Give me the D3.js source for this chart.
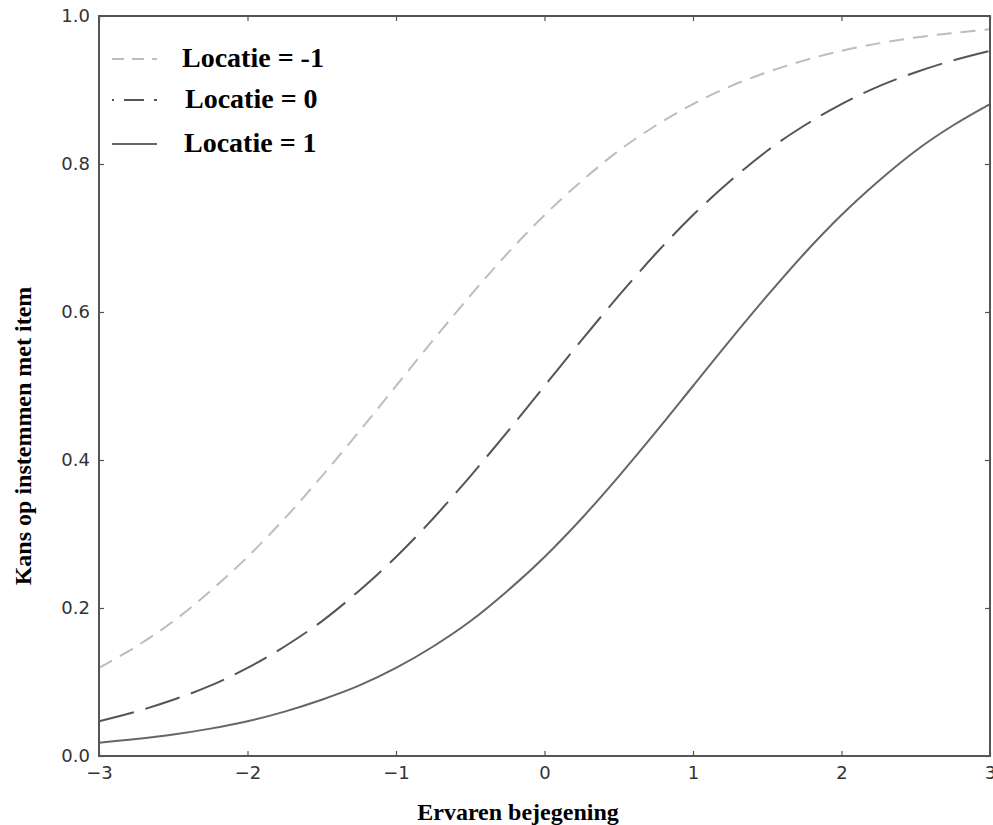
<!DOCTYPE html>
<html>
<head>
<meta charset="utf-8">
<script src="https://cdn.jsdelivr.net/npm/d3@7"></script>
<style>
  body { margin: 0; background: #fff; }
  .title { font-family: "Liberation Serif", "Times New Roman", serif; font-weight: bold; fill: #000; }
</style>
</head>
<body>
<div id="chart"></div>
<script>
// values, every 0.25 on the x axis
const xValues = [-3, -2.75, -2.5, -2.25, -2, -1.75, -1.5, -1.25, -1, -0.75, -0.5, -0.25,
  0, 0.25, 0.5, 0.75, 1, 1.25, 1.5, 1.75, 2, 2.25, 2.5, 2.75, 3]
const locMinus1 = [0.119, 0.148, 0.182, 0.223, 0.269, 0.321, 0.378, 0.438, 0.5, 0.562, 0.622, 0.679,
  0.731, 0.777, 0.818, 0.852, 0.881, 0.905, 0.924, 0.940, 0.953, 0.963, 0.971, 0.977, 0.982]
const loc0 = [0.047, 0.060, 0.076, 0.095, 0.119, 0.148, 0.182, 0.223, 0.269, 0.321, 0.378, 0.438,
  0.5, 0.562, 0.622, 0.679, 0.731, 0.777, 0.818, 0.852, 0.881, 0.905, 0.924, 0.940, 0.953]
const loc1 = [0.018, 0.023, 0.029, 0.037, 0.047, 0.060, 0.076, 0.095, 0.119, 0.148, 0.182, 0.223,
  0.269, 0.321, 0.378, 0.438, 0.5, 0.562, 0.622, 0.679, 0.731, 0.777, 0.818, 0.852, 0.881]
const seriesNames = ['Locatie = -1', 'Locatie = 0', 'Locatie = 1']
const xTicks = [-3, -2, -1, 0, 1, 2, 3]
const yTicks = [0, 0.2, 0.4, 0.6, 0.8, 1.0]

const width = 993
const height = 825
const plot = { left: 99, right: 990, top: 16, bottom: 756 }

const svg = d3.select('#chart').append('svg')
  .attr('width', width)
  .attr('height', height)

const x = d3.scaleLinear().domain([-3, 3]).range([plot.left, plot.right])
const y = d3.scaleLinear().domain([0, 1]).range([plot.bottom, plot.top])

const series = [
  { name: seriesNames[0], values: locMinus1, color: '#bdbdbd', dash: '15,9', legendDash: '12,8', legendOffset: 0 },
  { name: seriesNames[1], values: loc0, color: '#555', dash: '36,12', legendDash: '20,10', legendOffset: 18 },
  { name: seriesNames[2], values: loc1, color: '#666', dash: null, legendDash: null, legendOffset: 0 }
]

const line = d3.line()
  .x((d, i) => x(xValues[i]))
  .y(d => y(d))
  .curve(d3.curveMonotoneX)

svg.append('defs').append('clipPath').attr('id', 'clip')
  .append('rect')
  .attr('x', plot.left).attr('y', plot.top)
  .attr('width', plot.right - plot.left).attr('height', plot.bottom - plot.top)

svg.append('g').attr('clip-path', 'url(#clip)')
  .selectAll('path')
  .data(series)
  .join('path')
  .attr('d', d => line(d.values))
  .attr('fill', 'none')
  .attr('stroke', d => d.color)
  .attr('stroke-width', 2)
  .attr('stroke-dasharray', d => d.dash)

// axes, ticks pointing inward like the original
const fmt = d3.format('.1f')
const xFmt = d => d < 0 ? '\u2212' + Math.abs(d) : String(d)

svg.append('g')
  .attr('transform', 'translate(0,' + plot.bottom + ')')
  .call(d3.axisBottom(x).tickValues(xTicks).tickFormat(xFmt).tickSizeInner(-5).tickSizeOuter(0).tickPadding(10))
svg.append('g')
  .attr('transform', 'translate(0,' + plot.top + ')')
  .call(d3.axisTop(x).tickValues(xTicks).tickFormat('').tickSizeInner(-5).tickSizeOuter(0))
svg.append('g')
  .attr('transform', 'translate(' + plot.left + ',0)')
  .call(d3.axisLeft(y).tickValues(yTicks).tickFormat(fmt).tickSizeInner(-5).tickSizeOuter(0).tickPadding(9))
svg.append('g')
  .attr('transform', 'translate(' + plot.right + ',0)')
  .call(d3.axisRight(y).tickValues(yTicks).tickFormat('').tickSizeInner(-5).tickSizeOuter(0))

svg.selectAll('.domain').remove()
svg.selectAll('.tick line').attr('stroke', '#555').attr('stroke-width', 1.2)
svg.selectAll('.tick text')
  .style('font-family', '"DejaVu Sans", sans-serif')
  .style('font-size', '18px')
  .style('fill', '#333')

svg.append('rect')
  .attr('x', plot.left).attr('y', plot.top)
  .attr('width', plot.right - plot.left).attr('height', plot.bottom - plot.top)
  .attr('fill', 'none')
  .attr('stroke', '#555')
  .attr('stroke-width', 2)

// legend
const legend = svg.append('g').selectAll('g')
  .data(series)
  .join('g')
  .attr('transform', (d, i) => 'translate(112,' + [59, 100, 144][i] + ')')

legend.append('line')
  .attr('x1', 0).attr('x2', 45)
  .attr('stroke', d => d.color)
  .attr('stroke-width', 2)
  .attr('stroke-dasharray', d => d.legendDash)
  .attr('stroke-dashoffset', d => d.legendOffset)

legend.append('text')
  .attr('class', 'title')
  .attr('x', (d, i) => [70, 73, 72][i])
  .attr('y', 8)
  .attr('font-size', 28)
  .text(d => d.name)

// axis titles
svg.append('text')
  .attr('class', 'title')
  .attr('x', 518)
  .attr('y', 820)
  .attr('text-anchor', 'middle')
  .attr('font-size', 24)
  .text('Ervaren bejegening')

svg.append('text')
  .attr('class', 'title')
  .attr('transform', 'translate(31,436) rotate(-90)')
  .attr('text-anchor', 'middle')
  .attr('font-size', 24)
  .text('Kans op instemmen met item')
</script>
</body>
</html>
